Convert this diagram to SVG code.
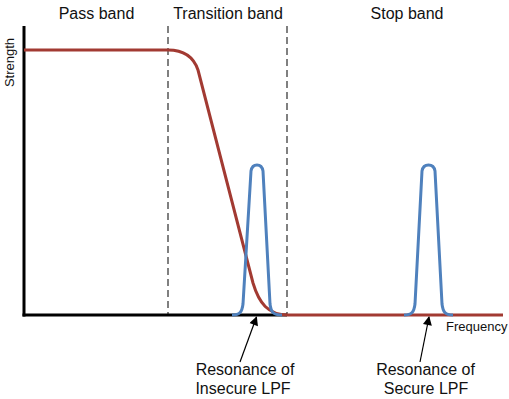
<svg xmlns="http://www.w3.org/2000/svg" width="509" height="399" viewBox="0 0 509 399">
<style>
text{font-family:"Liberation Sans",Arial,sans-serif;fill:#111}
.band{font-size:16px;text-anchor:middle}
.lbl{font-size:16px;text-anchor:middle}
.ax{font-size:13px}
.dash{stroke:#808080;stroke-width:2;stroke-dasharray:7,4;fill:none}
.red{stroke:#A23A32;stroke-width:3;fill:none;stroke-linejoin:round}
.blue{stroke:#4F81BD;stroke-width:3;fill:none;stroke-linejoin:round}
.arr{stroke:#000;stroke-width:1.2;fill:none}
</style>
<defs>
<marker id="ah" viewBox="0 0 10 10" refX="9" refY="5" markerWidth="11" markerHeight="9" markerUnits="userSpaceOnUse" orient="auto">
<path d="M0,0 L10,5 L0,10 Z" fill="#000"/>
</marker>
</defs>
<g id="labels">
<text class="band" x="96.5" y="19">Pass band</text>
<text class="band" x="228" y="19">Transition band</text>
<text class="band" x="407" y="19">Stop band</text>
<text class="ax" transform="translate(13.5,62.5) rotate(-90)" text-anchor="middle">Strength</text>
<text class="ax" x="446" y="331">Frequency</text>
</g>
<g id="dividers">
<line class="dash" x1="168" y1="26" x2="168" y2="314"/>
<line class="dash" x1="287" y1="26" x2="287" y2="314"/>
</g>
<g id="axes">
<line x1="24" y1="26" x2="24" y2="316.5" stroke="#000" stroke-width="3"/>
<line x1="22.5" y1="315" x2="287" y2="315" stroke="#000" stroke-width="3"/>
</g>
<g id="lpf-curve">
<path class="red" d="M24,50 L168,50 C182,50 193,55 198,70 L253,283 C259,303 268,315 288,315 L503,315"/>
</g>
<g id="resonance-insecure">
<path class="blue" d="M232,315 C240,315 242,312 243,304 L251,171 Q252,165 257,165 Q262,165 263,171 L270,304 C271,312 273,315 282,315"/>
</g>
<g id="resonance-secure">
<path class="blue" d="M404,315 C412,315 414,312 415,304 L422,171 Q423,165 428.5,165 Q434,165 435,171 L442,304 C443,312 445,315 453,315"/>
</g>
<g id="connectors">
<line class="arr" x1="240" y1="362" x2="256.5" y2="317" marker-end="url(#ah)"/>
<line class="arr" x1="420" y1="362" x2="429" y2="317" marker-end="url(#ah)"/>
</g>
<g id="annotations">
<text class="lbl" x="245" y="375">Resonance of</text>
<text class="lbl" x="243" y="394">Insecure LPF</text>
<text class="lbl" x="425.5" y="375">Resonance of</text>
<text class="lbl" x="426" y="394">Secure LPF</text>
</g>
</svg>
